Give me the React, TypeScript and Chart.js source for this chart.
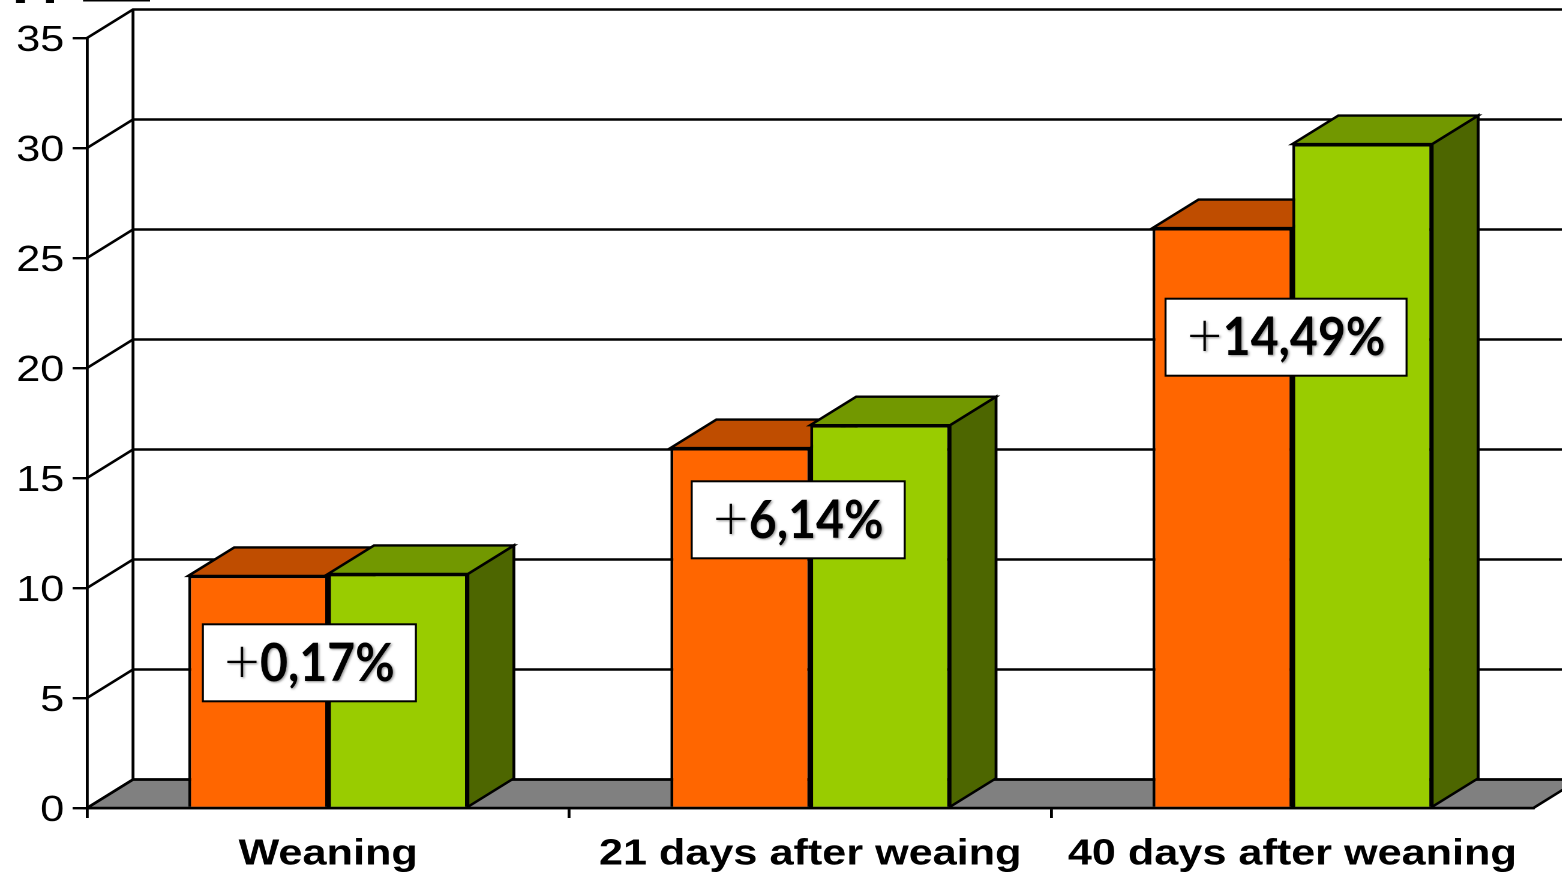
import React, { useEffect, useRef } from "react";
import { Chart, registerables } from "chart.js";

Chart.register(...registerables);

// Values on the vertical axis, one per group.
const categories = ["Weaning", "21 days after weaing", "40 days after weaning"];
const firstSeries = [10.55, 16.36, 26.36];
const secondSeries = [10.64, 17.4, 30.18];
const differenceLabels = ["+0,17%", "+6,14%", "+14,49%"];
const differenceLevels = [6.6, 13.1, 21.4];

// The artwork is a horizontally widened drawing: it is laid out narrow and stretched in CSS.
const STRETCH = 1.2;
const PAGE_W = 1563;
const PAGE_H = 874;
const DEPTH_X = 46 / STRETCH;
const DEPTH_Y = 28.5;
const STROKE = 2.4;

const FRONT = ["#ff6600", "#99cc00"];
const TOP = ["#bf4d00", "#729800"];
const SIDE = ["#803300", "#4d6600"];
const FLOOR = "#808080";
const INK = "#000000";

function quad(ctx: CanvasRenderingContext2D, pts: number[][], fill: string | null) {
  ctx.beginPath();
  pts.forEach((p, i) => (i ? ctx.lineTo(p[0], p[1]) : ctx.moveTo(p[0], p[1])));
  ctx.closePath();
  if (fill) {
    ctx.fillStyle = fill;
    ctx.fill();
  }
  ctx.lineWidth = STROKE;
  ctx.strokeStyle = INK;
  ctx.stroke();
}

// Back wall, floor and the receding sides of each box, all behind the front faces.
const depthPlugin = {
  id: "depth",
  beforeDatasetsDraw(chart: any) {
    const { ctx, chartArea: a, scales } = chart;
    const y = scales.y;
    ctx.save();
    quad(
      ctx,
      [
        [a.left, a.bottom],
        [a.left + DEPTH_X, a.bottom - DEPTH_Y],
        [a.right + DEPTH_X, a.bottom - DEPTH_Y],
        [a.right, a.bottom],
      ],
      FLOOR
    );
    ctx.strokeStyle = INK;
    ctx.lineWidth = STROKE;
    for (const v of y.ticks.map((t: any) => t.value)) {
      const py = y.getPixelForValue(v);
      ctx.beginPath();
      ctx.moveTo(a.left, py);
      ctx.lineTo(a.left + DEPTH_X, py - DEPTH_Y);
      ctx.lineTo(a.right + DEPTH_X, py - DEPTH_Y);
      ctx.stroke();
    }
    ctx.beginPath();
    ctx.moveTo(a.left + DEPTH_X, a.bottom - DEPTH_Y);
    ctx.lineTo(a.left + DEPTH_X, a.top - DEPTH_Y);
    ctx.stroke();

    chart.data.datasets.forEach((_: any, d: number) => {
      chart.getDatasetMeta(d).data.forEach((bar: any) => {
        const l = bar.x - bar.width / 2;
        const r = bar.x + bar.width / 2;
        quad(
          ctx,
          [
            [r, bar.base],
            [r + DEPTH_X, bar.base - DEPTH_Y],
            [r + DEPTH_X, bar.y - DEPTH_Y],
            [r, bar.y],
          ],
          SIDE[d]
        );
        quad(
          ctx,
          [
            [l, bar.y],
            [l + DEPTH_X, bar.y - DEPTH_Y],
            [r + DEPTH_X, bar.y - DEPTH_Y],
            [r, bar.y],
          ],
          TOP[d]
        );
      });
    });
    ctx.restore();
  },
};

// White boxes stating the change between the two bars of a group.
const BOX_H = 77;
const BOX_W = [213, 213, 241];
const BOX_SHIFT = [-18.7, -12, -6.3];

const calloutPlugin = {
  id: "callouts",
  afterDatasetsDraw(chart: any) {
    const { ctx, scales } = chart;
    ctx.save();
    differenceLabels.forEach((text, i) => {
      const cx = scales.x.getPixelForValue(i) * STRETCH + BOX_SHIFT[i];
      const cy = scales.y.getPixelForValue(differenceLevels[i]);
      ctx.save();
      // Undo the page-level widening so the box and its lettering keep true proportions.
      ctx.scale(1 / STRETCH, 1);
      ctx.fillStyle = "#ffffff";
      ctx.strokeStyle = INK;
      ctx.lineWidth = 2;
      ctx.fillRect(cx - BOX_W[i] / 2, cy - BOX_H / 2, BOX_W[i], BOX_H);
      ctx.strokeRect(cx - BOX_W[i] / 2, cy - BOX_H / 2, BOX_W[i], BOX_H);

      const plus = text[0];
      const rest = text.slice(1);
      const regular = "300 62px Lato";
      const bold = "700 53px Lato";
      ctx.font = regular;
      const plusW = ctx.measureText(plus).width;
      ctx.font = bold;
      const restW = ctx.measureText(rest).width * 0.91;
      let x = cx - (plusW + restW) / 2;
      ctx.textBaseline = "alphabetic";
      ctx.textAlign = "left";
      ctx.shadowColor = "rgba(0,0,0,0.45)";
      ctx.shadowBlur = 4;
      ctx.shadowOffsetX = 2;
      ctx.shadowOffsetY = 2;
      ctx.fillStyle = INK;
      ctx.font = regular;
      ctx.fillText(plus, x, cy + 20);
      x += plusW;
      ctx.font = bold;
      ctx.fillText(rest, x, cy + 18, restW);
      ctx.restore();
    });
    ctx.restore();
  },
};

// Foot of a heading that runs off the top edge of the page.
const HEADING_STUBS = [
  [16, 9],
  [46, 8],
];
const headingPlugin = {
  id: "headingStubs",
  afterDraw(chart: any) {
    const { ctx } = chart;
    ctx.save();
    ctx.scale(1 / STRETCH, 1);
    ctx.fillStyle = INK;
    HEADING_STUBS.forEach(([x, w]) => ctx.fillRect(x, 0, w, 3));
    ctx.fillRect(83, 0, 67, 1.5);
    ctx.restore();
  },
};

export default function App() {
  const ref = useRef<HTMLCanvasElement | null>(null);

  useEffect(() => {
    if (!ref.current) return;
    const chart = new Chart(ref.current, {
      type: "bar",
      data: {
        labels: categories,
        datasets: [
          { label: "First group", data: firstSeries, backgroundColor: FRONT[0], borderColor: INK, borderWidth: STROKE },
          { label: "Second group", data: secondSeries, backgroundColor: FRONT[1], borderColor: INK, borderWidth: STROKE },
        ],
      },
      plugins: [depthPlugin, calloutPlugin, headingPlugin],
      options: {
        animation: false,
        responsive: false,
        maintainAspectRatio: false,
        devicePixelRatio: 2,
        layout: { padding: { top: 38, right: (PAGE_W - 1534) / STRETCH, bottom: 0, left: 0 } },
        datasets: { bar: { categoryPercentage: 0.58, barPercentage: 1 } },
        plugins: { legend: { display: false }, title: { display: false }, tooltip: { enabled: false } },
        scales: {
          x: {
            afterFit(scale: any) {
              scale.height = PAGE_H - 808;
            },
            grid: {
              display: true,
              drawOnChartArea: false,
              drawTicks: true,
              tickLength: 10,
              // The closing grid line belongs to no tick, and the far end of the axis stays bare.
              color: (c: any) => (c.tick ? INK : "rgba(0,0,0,0)"),
              lineWidth: STROKE,
              offset: true,
            },
            border: { display: true, color: INK, width: STROKE },
            ticks: {
              color: INK,
              padding: 15,
              autoSkip: false,
              maxRotation: 0,
              font: { family: "'Liberation Sans'", size: 36, weight: "bold" },
            },
          },
          y: {
            min: 0,
            max: 35,
            afterFit(scale: any) {
              scale.width = 87 / STRETCH;
            },
            grid: { display: true, drawOnChartArea: false, drawTicks: true, tickLength: 12, color: INK, lineWidth: STROKE },
            border: { display: true, color: INK, width: STROKE },
            ticks: {
              stepSize: 5,
              color: INK,
              padding: 7,
              labelOffset: 3,
              font: { family: "'Liberation Sans'", size: 36 },
            },
          },
        },
      },
    } as any);
    return () => chart.destroy();
  }, []);

  return (
    <div style={{ position: "fixed", left: 0, top: 0, width: PAGE_W, height: PAGE_H, overflow: "hidden", background: "#fff" }}>
      <canvas
        ref={ref}
        width={PAGE_W / STRETCH}
        height={PAGE_H}
        style={{ display: "block", transformOrigin: "0 0", transform: `scaleX(${STRETCH})` }}
      />
    </div>
  );
}
